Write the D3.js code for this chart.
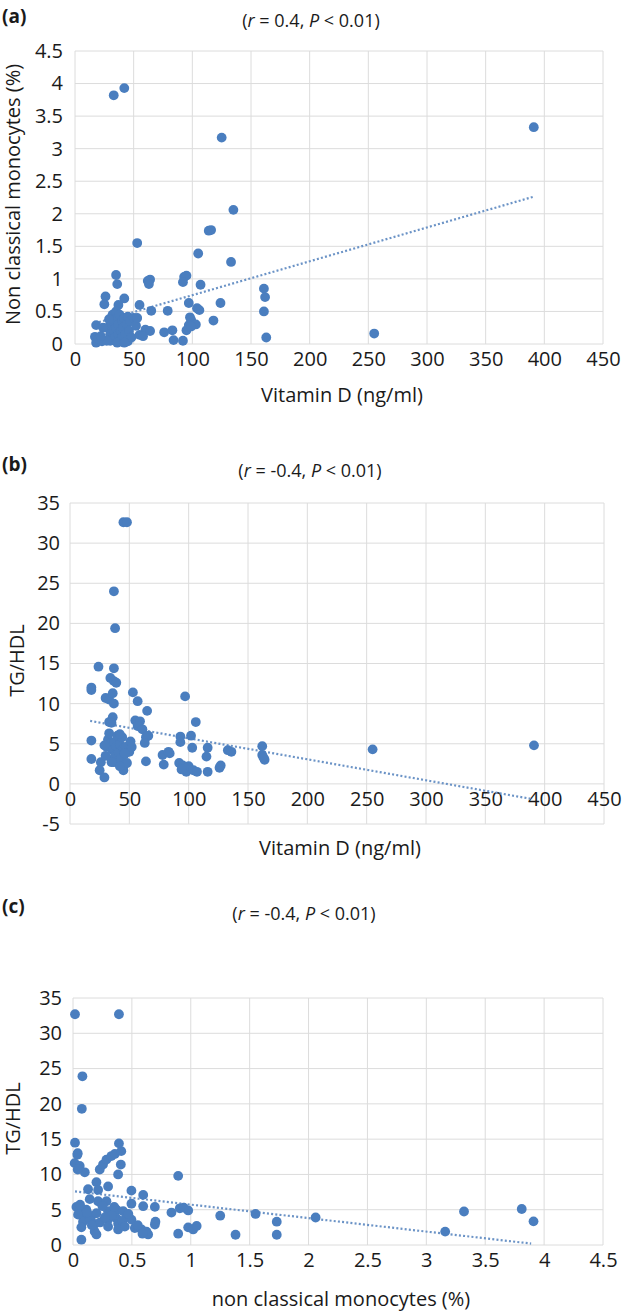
<!DOCTYPE html>
<html><head><meta charset="utf-8">
<script src="https://cdn.jsdelivr.net/npm/d3@7"></script>
<style>
body{margin:0;background:#fff}
svg{display:block}
text{font-family:"Open Sans",sans-serif;fill:#1a1a1a}
</style>
</head><body>
<svg id="chart" width="628" height="1311"></svg>
<script>
// ---------- DATA ----------
// (a) Vitamin D (ng/ml) vs Non classical monocytes (%)
const pointsA = [
 [33,3.82],[42,3.93],[125,3.17],[391,3.33],[135,2.06],[114,1.74],[116,1.75],[53,1.55],[105,1.39],[133,1.26],
 [35,1.06],[36,0.92],[62,0.97],[64,0.99],[63,0.92],[93,1.03],[95,1.05],[92,0.95],[107,0.91],
 [26,0.73],[25,0.61],[42,0.70],[37,0.60],[55,0.60],[65,0.51],[79,0.51],[97,0.63],[104,0.55],[106,0.52],[124,0.63],
 [118,0.36],[98,0.41],[99,0.37],[97,0.29],[103,0.30],[18,0.29],
 [60,0.22],[64,0.20],[55,0.14],[58,0.12],[76,0.18],[83,0.21],[84,0.06],[92,0.05],[95,0.21],[99,0.27],
 [17,0.11],[18,0.02],[23,0.04],[45,0.04],
 [161,0.85],[162,0.72],[161,0.50],[163,0.10],[255,0.16],
 [28,0.25],[30,0.15],[30,0.05],[31,0.30],[32,0.45],[33,0.20],[33,0.35],[34,0.10],[35,0.50],[35,0.25],
 [36,0.40],[37,0.15],[37,0.30],[38,0.05],[38,0.45],[39,0.20],[40,0.35],[40,0.10],[41,0.25],[42,0.40],
 [43,0.15],[44,0.30],[45,0.42],[46,0.20],[47,0.35],[48,0.10],[50,0.40],[52,0.28],[53,0.40],[27,0.05],
 [29,0.38],[36,0.02],[42,0.02],[24,0.25],[20,0.08],[22,0.12]
];
const trendA = {x0:17, x1:391, slope:0.0052, intercept:0.23};

// (b) Vitamin D (ng/ml) vs TG/HDL
const pointsB = [
 [45,32.6],[48,32.6],[37,24.0],[38,19.4],[24,14.6],[37,14.4],[34,13.2],[37,12.8],[39,12.6],[18,12.0],[18,11.7],
 [30,10.7],[33,10.5],[36,11.3],[37,10.0],[53,11.4],[57,10.3],[65,9.1],[97,10.9],[36,8.3],[33,7.7],[35,7.6],
 [55,7.9],[59,7.8],[57,7.2],[61,6.8],[106,7.7],[64,5.8],[66,6.0],[63,5.1],[93,5.9],[93,5.2],[102,6.0],[18,5.4],
 [103,4.5],[116,4.5],[133,4.2],[136,4.0],[162,4.7],[255,4.3],[391,4.8],
 [18,3.1],[26,2.7],[25,1.7],[29,0.8],[37,2.7],[45,1.7],[46,2.4],[64,2.8],[78,3.6],[79,2.4],[83,4.0],[84,3.8],
 [92,2.6],[95,2.3],[98,1.5],[100,2.2],[104,1.7],[107,1.5],[116,1.5],[115,3.4],[126,2.0],[127,2.3],
 [162,3.6],[164,3.0],[163,3.3],[96,2.0],[94,1.8],
 [31,4.6],[32,5.5],[33,6.3],[34,5.0],[35,3.0],[36,4.2],[37,5.2],[38,3.5],[39,4.7],[40,2.8],[40,6.0],
 [41,3.9],[42,4.9],[43,3.2],[44,5.8],[45,4.4],[46,3.7],[47,4.6],[48,2.6],[50,4.0],[52,4.6],[29,4.8],
 [35,2.7],[42,2.2],[30,3.5],[51,5.3],[42,6.2],[46,3.8]
];
const trendB = {x0:17, x1:390, slope:-0.02614, intercept:8.29};

// (c) non classical monocytes (%) vs TG/HDL
const pointsC = [
 [0.017,32.7],[0.39,32.7],[0.08,23.9],[0.075,19.3],[0.017,14.5],[0.04,13.0],[0.037,12.8],[0.014,11.6],
 [0.057,11.2],[0.10,10.3],[0.04,10.7],
 [0.227,10.7],[0.255,11.4],[0.284,12.1],[0.326,12.6],[0.355,12.9],[0.41,13.3],[0.39,14.4],[0.406,11.4],[0.383,10.0],
 [0.893,9.8],[0.199,8.9],[0.128,7.9],[0.213,7.8],[0.298,8.3],[0.496,7.7],[0.596,7.1],[0.142,6.5],[0.213,6.2],
 [0.284,6.2],[0.496,5.85],[0.596,5.5],[0.695,5.4],[0.029,5.4],[0.057,4.8],[0.10,4.3],[0.156,4.1],[0.199,4.5],
 [0.298,4.8],[0.369,5.0],[0.426,4.8],[0.454,4.1],[0.836,4.6],[0.907,5.2],[0.978,4.9],[0.94,5.3],
 [0.085,3.3],[0.142,3.6],[0.184,3.0],[0.071,2.5],[0.298,3.6],[0.369,3.8],[0.383,3.0],[0.496,3.6],[0.298,2.6],
 [0.383,2.2],[0.525,2.4],[0.582,2.2],[0.624,1.9],[0.695,2.9],[0.70,3.3],[0.184,1.9],[0.199,1.5],[0.893,1.6],
 [0.978,2.5],[1.02,2.2],[1.05,2.7],[0.638,1.5],[0.071,0.75],[0.043,4.3],[0.113,5.0],
 [0.25,5.5],[0.33,4.2],[0.42,3.4],[0.12,4.6],[0.23,3.2],[0.35,5.4],[0.06,5.7],[0.44,2.6],[0.27,3.9],
 [0.16,2.8],[0.47,4.4],[0.55,2.8],[0.59,1.6],
 [1.25,4.15],[1.55,4.4],[1.38,1.45],[1.73,3.3],[1.73,1.45],[2.06,3.9],[3.16,1.9],[3.32,4.75],[3.81,5.1],[3.91,3.35]
];
const trendC = {x0:0.017, x1:3.89, slope:-1.91, intercept:7.63};

const panelLabels = ["(a)","(b)","(c)"];
const rValues = ["0.4","-0.4","-0.4"];
const xTitles = ["Vitamin D (ng/ml)","Vitamin D (ng/ml)","non classical monocytes (%)"];
const yTitles = ["Non classical monocytes (%)","TG/HDL","TG/HDL"];
const xTicksVitD = [0,50,100,150,200,250,300,350,400,450];
const xTicksNcm = [0,0.5,1,1.5,2,2.5,3,3.5,4,4.5];
const yTicksA = [0,0.5,1,1.5,2,2.5,3,3.5,4,4.5];
const yTicksB = [-5,0,5,10,15,20,25,30,35];
const yTicksC = [0,5,10,15,20,25,30,35];

// ---------- LAYOUT ----------
const panels = [
 {data:pointsA, trend:trendA, xTicks:xTicksVitD, yTicks:yTicksA,
  xR:[75,603], yR:[344,51], labelY:16, titleX:311, titleY:21, xTitleY:395, yTitleX:13, yPad:12},
 {data:pointsB, trend:trendB, xTicks:xTicksVitD, yTicks:yTicksB,
  xR:[70,604], yR:[824,503], labelY:464, titleX:310, titleY:471, xTitleY:848, yTitleX:17, yPad:10},
 {data:pointsC, trend:trendC, xTicks:xTicksNcm, yTicks:yTicksC,
  xR:[73,603], yR:[1245,998], labelY:906, titleX:304, titleY:914, xTitleY:1299, yTitleX:13, yPad:11}
];

const svg = d3.select("#chart");
const dotColor = "#4a7ebf";
const gridColor = "#dcdcdc";
const tickFont = 20;

panels.forEach((p, i) => {
  const xs = d3.scaleLinear().domain(d3.extent(p.xTicks)).range(p.xR);
  const ys = d3.scaleLinear().domain(d3.extent(p.yTicks)).range(p.yR);
  const g = svg.append("g");

  // gridlines
  g.selectAll(".hg").data(p.yTicks).join("line")
    .attr("x1", p.xR[0]).attr("x2", p.xR[1])
    .attr("y1", d => ys(d)).attr("y2", d => ys(d))
    .attr("stroke", gridColor).attr("stroke-width", 1);
  g.selectAll(".vg").data(p.xTicks).join("line")
    .attr("x1", d => xs(d)).attr("x2", d => xs(d))
    .attr("y1", p.yR[0]).attr("y2", p.yR[1])
    .attr("stroke", gridColor).attr("stroke-width", 1);

  // y axis labels
  const yAxis = d3.axisLeft(ys).tickValues(p.yTicks).tickSize(0).tickPadding(p.yPad)
    .tickFormat(d => String(d));
  const ya = g.append("g").attr("transform", `translate(${p.xR[0]},0)`).call(yAxis);
  ya.select(".domain").remove();
  ya.selectAll("text").attr("font-size", tickFont).attr("font-family", "Open Sans").attr("fill", "#1a1a1a");

  // x axis labels at y = 0
  const xAxis = d3.axisBottom(xs).tickValues(p.xTicks).tickSize(0).tickPadding(15)
    .tickFormat(d => String(d));
  const xa = g.append("g").attr("transform", `translate(0,${ys(0)})`).call(xAxis);
  xa.select(".domain").remove();
  xa.selectAll("text").attr("font-size", tickFont).attr("font-family", "Open Sans").attr("fill", "#1a1a1a")
    .attr("dy", "0.36em");

  // trend line
  const t = p.trend;
  g.append("line")
    .attr("x1", xs(t.x0)).attr("y1", ys(t.intercept + t.slope * t.x0))
    .attr("x2", xs(t.x1)).attr("y2", ys(t.intercept + t.slope * t.x1))
    .attr("stroke", "#6b93c6").attr("stroke-width", 2.2)
    .attr("stroke-dasharray", "2,2.2");

  // points
  g.selectAll(".pt").data(p.data).join("circle")
    .attr("cx", d => xs(d[0])).attr("cy", d => ys(d[1]))
    .attr("r", 4.9).attr("fill", dotColor);

  // panel label
  g.append("text").attr("x", 2).attr("y", p.labelY).attr("dy", "0.35em")
    .attr("font-size", 19).attr("font-weight", "bold").text(panelLabels[i]);

  // title
  const tt = g.append("text").attr("x", p.titleX).attr("y", p.titleY).attr("dy", "0.35em")
    .attr("text-anchor", "middle").attr("font-size", 18);
  tt.append("tspan").text("(");
  tt.append("tspan").attr("font-style", "italic").text("r");
  tt.append("tspan").text(" = " + rValues[i] + ", ");
  tt.append("tspan").attr("font-style", "italic").text("P");
  tt.append("tspan").text(" < 0.01)");

  // axis titles
  g.append("text").attr("x", (p.xR[0] + p.xR[1]) / 2 + 3).attr("y", p.xTitleY).attr("dy", "0.35em")
    .attr("text-anchor", "middle").attr("font-size", 20).text(xTitles[i]);
  const cy = (p.yR[0] + p.yR[1]) / 2 - 3;
  g.append("text").attr("transform", `translate(${p.yTitleX},${cy}) rotate(-90)`).attr("dy", "0.35em")
    .attr("text-anchor", "middle").attr("font-size", 20).text(yTitles[i]);
});
</script>
</body></html>
